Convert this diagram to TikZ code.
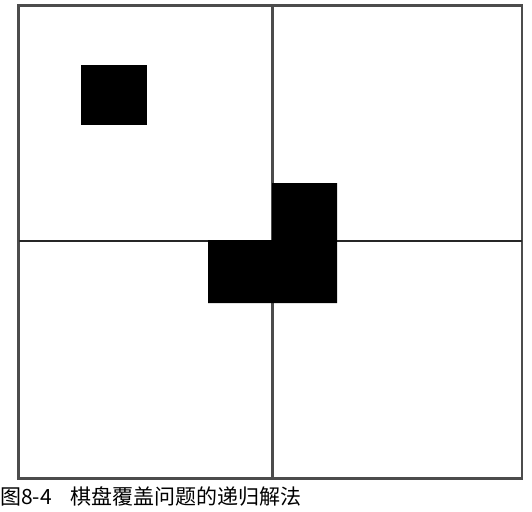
\documentclass[tikz,border=0pt]{standalone}
\usepackage{fontspec}
\newfontfamily\cjk{Noto Sans CJK SC}
\begin{document}
\begin{tikzpicture}[x=1pt,y=-1pt,
  gridline/.style={line width=2.2pt,draw=black!70},
  tile/.style={fill=black}]
\useasboundingbox (0,0) rectangle (532,511);
% outer board
\draw[gridline] (18.5,5.5) rectangle (522,478.5);
% quadrant lines
\draw[gridline] (272.5,5.5) -- (272.5,478.5);
\draw[line width=2pt,draw=black!85] (18.5,240.5) -- (522,240.5);
% special square
\fill[tile] (81,64.5) rectangle (147,125);
% L-tromino
\fill[tile] (272,183) -- (337,183) -- (337,303) -- (208,303) -- (208,240) -- (272,240) -- cycle;
% caption
\node[anchor=base west,inner sep=0pt,font=\cjk\fontsize{21}{21}\selectfont] (cap) at (0,504) {图8-4\hspace{0.9em}棋盘覆盖问题的递归解法};
\end{tikzpicture}
\end{document}
